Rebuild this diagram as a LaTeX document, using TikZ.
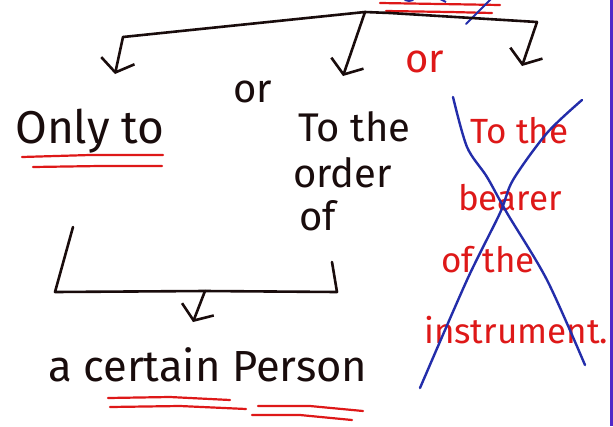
\documentclass[tikz,border=0pt]{standalone}
\usepackage{fontspec}
\setmainfont{Fira Sans}
\usetikzlibrary{arrows.meta}
\definecolor{ink}{RGB}{25,12,12}
\definecolor{redink}{RGB}{222,24,24}
\definecolor{blueink}{RGB}{35,45,170}
\definecolor{rule}{RGB}{80,40,200}
\begin{document}
\begin{tikzpicture}[x=1pt,y=-1pt,
  pen/.style={draw=ink,line width=2.6pt,line cap=round,line join=round},
  tip/.style={pen,-{Straight Barb[length=12pt,width=34pt,line width=2.6pt]}},
  redline/.style={draw=redink,line width=2.2pt,line cap=round},
  cross/.style={draw=blueink,line width=2.4pt,line cap=round},
  word/.style={inner sep=0pt,anchor=base west,text=ink,align=left},
  redword/.style={word,text=redink},
]
% page
\fill[white] (0,0) rectangle (613,426);
\useasboundingbox (0,0) rectangle (613,426);

% heading strokes at the very top edge
\begin{scope}
  \clip (0,0) rectangle (613,426);
  \draw[redline] (380,3) -- (440,4) -- (500,5);
  \draw[redline] (386,11) -- (450,12) -- (492,13);
  \draw[cross,line width=2pt] (466,24) -- (480,10) -- (492,-2);
  \draw[blueink,line width=2pt] (404,-2) arc (180:360:5pt and 3pt);
  \draw[blueink,line width=2pt] (440,-1) -- (446,2);
\end{scope}

% coordinates of the branching lines
\coordinate (corL) at (123,37);
\coordinate (junc) at (365,12);
\coordinate (corR) at (537,22);
\coordinate (endL) at (115,74);
\coordinate (endM) at (343,76);
\coordinate (endR) at (522,66);

% text blocks (a multi-line block sits on the baseline of its last line)
\node[word,font=\fontsize{46}{48}\selectfont] (onlyto) at (15,143) {Only to};
\node[word,font=\fontsize{40}{46}\selectfont] (order) at (293,230)
  {\hspace*{5pt}To the\\order\\[-3pt]\hspace*{6pt}of};
\node[redword,font=\fontsize{35}{64}\selectfont] (bearer) at (424,343)
  {\hspace*{46pt}To the\\[3pt]\hspace*{34pt}bearer\\[-2pt]\hspace*{17pt}of the\\[7pt]instrument.};
\node[word,font=\fontsize{43.5}{48}\selectfont] (person) at (48,381) {a certain Person};
\node[word,font=\fontsize{40}{40}\selectfont] (or1) at (233,102) {or};
\node[redword,font=\fontsize{40}{40}\selectfont] (or2) at (405,72) {or};

% top branching line and its three arrows
\draw[pen] (corL) -- (junc) -- (390,13) -- (corR);
\draw[tip] (corL) -- (endL);
\draw[tip] (junc) -- (endM);
\draw[tip] (corR) -- (endR);

% red underlines
\draw[redline] (22,157) -- (90,155) -- (163,155);
\draw[redline] (33,167) -- (100,166) -- (162,166);
\draw[redline] (108,398) -- (170,397) -- (230,400);
\draw[redline] (110,407) -- (180,406) -- (246,409);
\draw[redline] (258,406) -- (310,406) -- (363,411);
\draw[redline] (252,415) -- (300,415) -- (352,420);

% blue cross over the struck-out branch
\draw[cross] plot[smooth] coordinates {(453,97) (467,147) (487,177) (507,213) (547,280) (585,365)};
\draw[cross] plot[smooth] coordinates {(582,100) (547,133) (513,180) (500,213) (467,280) (420,388)};

% bottom bracket joining two branches
\coordinate (brL) at (73,227);
\coordinate (brLB) at (55,292);
\coordinate (brM) at (205,291);
\coordinate (brRB) at (337,292);
\coordinate (brR) at (332,262);
\coordinate (endB) at (193,322);
\draw[pen] (brL) -- (brLB) -- (brM) -- (brRB) -- (brR);
\draw[tip] (brM) -- (endB);

% right-hand margin rule
\draw[rule,line width=3pt] (611.5,0) -- (611.5,426);
\end{tikzpicture}
\end{document}
